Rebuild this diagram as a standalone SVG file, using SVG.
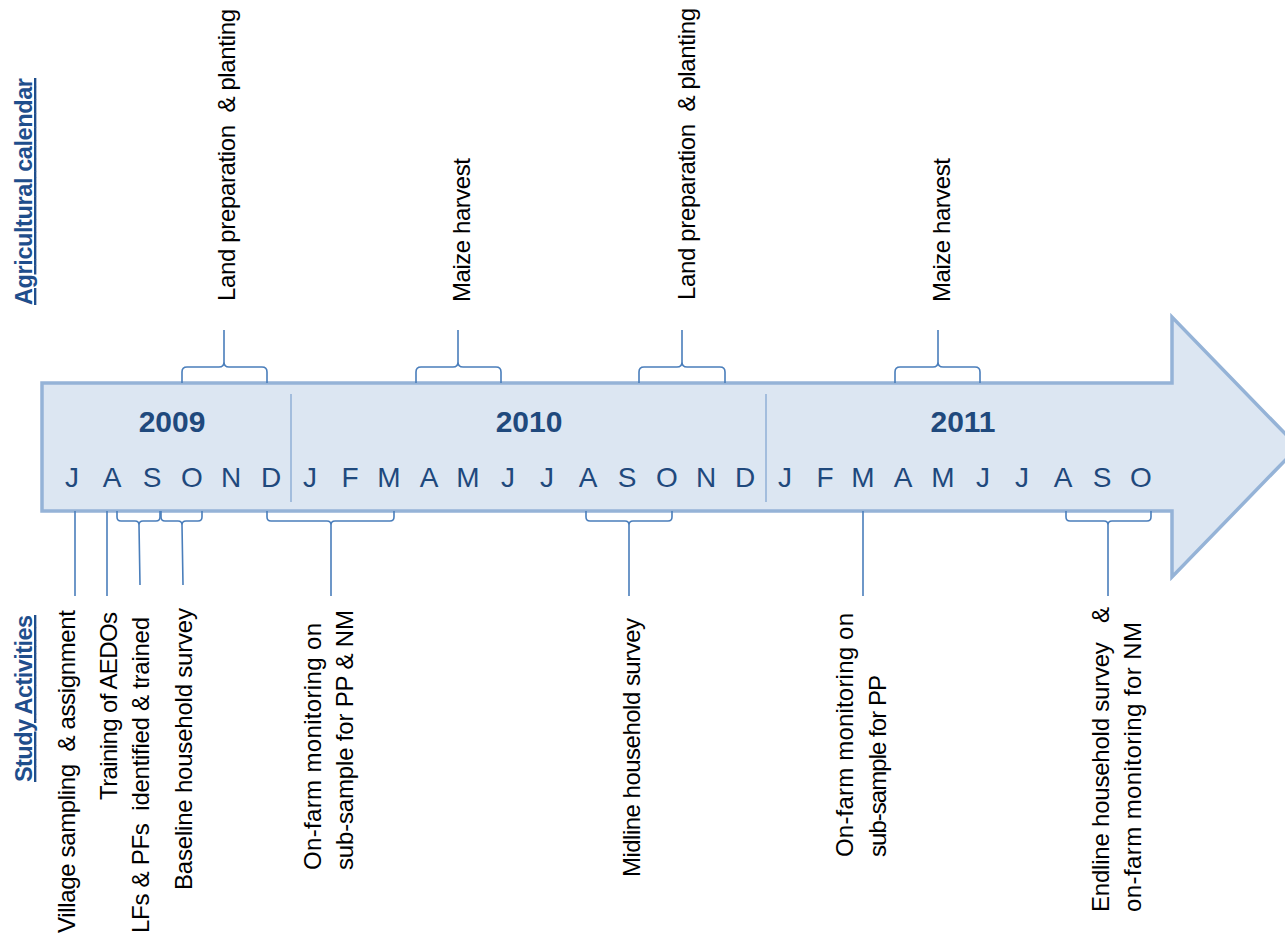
<svg xmlns="http://www.w3.org/2000/svg" width="1285" height="942" viewBox="0 0 1285 942">
<style>
.lbl{font-family:"Liberation Sans",Arial,sans-serif;font-size:24px;fill:#000;white-space:pre}
.head{font-family:"Liberation Sans",Arial,sans-serif;font-size:23.5px;font-weight:bold;fill:#1f4e8c;text-decoration:underline;white-space:pre}
.year{font-family:"Liberation Sans",Arial,sans-serif;font-size:30px;font-weight:bold;fill:#1f497d;text-anchor:middle}
.mon{font-family:"Liberation Sans",Arial,sans-serif;font-size:28px;fill:#1f497d;text-anchor:middle}
.br{fill:none;stroke:#4a7ebb;stroke-width:1.6}
.div{stroke:#95b3d7;stroke-width:1.6}
</style>
<rect width="1285" height="942" fill="#fff"/>
<g id="timeline-arrow">
<polygon points="42,383 1172,383 1172,317 1298,447 1172,577 1172,511 42,511" fill="#dce6f2" stroke="#95b3d7" stroke-width="3.5"/>
<line class="div" x1="291" y1="394" x2="291" y2="502"/>
<line class="div" x1="766" y1="394" x2="766" y2="502"/>
<text class="year" x="172" y="432">2009</text>
<text class="year" x="529" y="432">2010</text>
<text class="year" x="963" y="432">2011</text>
<g class="mon">
<text class="mon" x="72" y="487">J</text>
<text class="mon" x="112" y="487">A</text>
<text class="mon" x="152" y="487">S</text>
<text class="mon" x="192" y="487">O</text>
<text class="mon" x="231" y="487">N</text>
<text class="mon" x="271" y="487">D</text>
<text class="mon" x="310" y="487">J</text>
<text class="mon" x="350" y="487">F</text>
<text class="mon" x="389" y="487">M</text>
<text class="mon" x="429" y="487">A</text>
<text class="mon" x="468" y="487">M</text>
<text class="mon" x="508" y="487">J</text>
<text class="mon" x="547" y="487">J</text>
<text class="mon" x="588" y="487">A</text>
<text class="mon" x="627" y="487">S</text>
<text class="mon" x="667" y="487">O</text>
<text class="mon" x="706" y="487">N</text>
<text class="mon" x="745" y="487">D</text>
<text class="mon" x="785" y="487">J</text>
<text class="mon" x="825" y="487">F</text>
<text class="mon" x="863" y="487">M</text>
<text class="mon" x="903" y="487">A</text>
<text class="mon" x="943" y="487">M</text>
<text class="mon" x="983" y="487">J</text>
<text class="mon" x="1022" y="487">J</text>
<text class="mon" x="1063" y="487">A</text>
<text class="mon" x="1102" y="487">S</text>
<text class="mon" x="1141" y="487">O</text>
</g>
</g>
<g id="connectors">
<path class="br" d="M182,383 V372 Q182,367 187,367 H219 Q224,367 224,362 V330 M224,362 Q224,367 229,367 H262 Q267,367 267,372 V383"/>
<path class="br" d="M416,383 V372 Q416,367 421,367 H453 Q458,367 458,362 V330 M458,362 Q458,367 463,367 H496 Q501,367 501,372 V383"/>
<path class="br" d="M639,383 V372 Q639,367 644,367 H677 Q682,367 682,362 V330 M682,362 Q682,367 687,367 H720 Q725,367 725,372 V383"/>
<path class="br" d="M895,383 V372 Q895,367 900,367 H933 Q938,367 938,362 V330 M938,362 Q938,367 943,367 H975 Q980,367 980,372 V383"/>
<line class="br" x1="75" y1="511" x2="75" y2="596"/>
<line class="br" x1="107" y1="511" x2="107" y2="596"/>
<path class="br" d="M117,511 V517 Q117,521 121,521 H135 Q139,521 139,525 L140,585 M139,525 Q139,521 143,521 H156 Q160,521 160,517 V511"/>
<path class="br" d="M161,511 V517 Q161,521 165,521 H178 Q182,521 182,525 L183,585 M182,525 Q182,521 186,521 H198 Q202,521 202,517 V511"/>
<path class="br" d="M267,511 V517 Q267,521 271,521 H327 Q331,521 331,525 V596 M331,525 Q331,521 335,521 H390 Q394,521 394,517 V511"/>
<path class="br" d="M586,511 V517 Q586,521 590,521 H625 Q629,521 629,525 V596 M629,525 Q629,521 633,521 H668 Q672,521 672,517 V511"/>
<line class="br" x1="863" y1="511" x2="863" y2="596"/>
<path class="br" d="M1066,511 V517 Q1066,521 1070,521 H1104 Q1108,521 1108,525 V596 M1108,525 Q1108,521 1112,521 H1147 Q1151,521 1151,517 V511"/>
</g>
<g id="heading-agri"><text class="head" transform="translate(32,305) rotate(-90)" textLength="227">Agricultural calendar</text></g>
<g id="heading-study"><text class="head" transform="translate(32,782) rotate(-90)" textLength="167">Study Activities</text></g>
<g id="agri-land-2009"><text class="lbl" transform="translate(235,301) rotate(-90)" textLength="292">Land preparation  &amp; planting</text></g>
<g id="agri-maize-2010"><text class="lbl" transform="translate(470,302) rotate(-90)" textLength="144">Maize harvest</text></g>
<g id="agri-land-2010"><text class="lbl" transform="translate(695,300) rotate(-90)" textLength="292">Land preparation  &amp; planting</text></g>
<g id="agri-maize-2011"><text class="lbl" transform="translate(950,302) rotate(-90)" textLength="144">Maize harvest</text></g>
<g id="act-village"><text class="lbl" transform="translate(75,933) rotate(-90)" textLength="323">Village sampling  &amp; assignment</text></g>
<g id="act-training"><text class="lbl" transform="translate(117,800) rotate(-90)" textLength="188">Training of AEDOs</text></g>
<g id="act-lfs"><text class="lbl" transform="translate(149,933) rotate(-90)" textLength="316">LFs &amp; PFs  identified &amp; trained</text></g>
<g id="act-baseline"><text class="lbl" transform="translate(192,890) rotate(-90)" textLength="282">Baseline household survey</text></g>
<g id="act-onfarm-2010">
<text class="lbl" transform="translate(321,870) rotate(-90)" textLength="247">On-farm monitoring on</text>
<text class="lbl" transform="translate(353,870) rotate(-90)" textLength="260">sub-sample for PP &amp; NM</text>
</g>
<g id="act-midline"><text class="lbl" transform="translate(640,877) rotate(-90)" textLength="259">Midline household survey</text></g>
<g id="act-onfarm-2011">
<text class="lbl" transform="translate(853,857) rotate(-90)" textLength="244">On-farm monitoring on</text>
<text class="lbl" transform="translate(886,857) rotate(-90)" textLength="182">sub-sample for PP</text>
</g>
<g id="act-endline">
<text class="lbl" transform="translate(1109,912) rotate(-90)" textLength="305">Endline household survey   &amp;</text>
<text class="lbl" transform="translate(1141,912) rotate(-90)" textLength="290">on-farm monitoring for NM</text>
</g>
</svg>
